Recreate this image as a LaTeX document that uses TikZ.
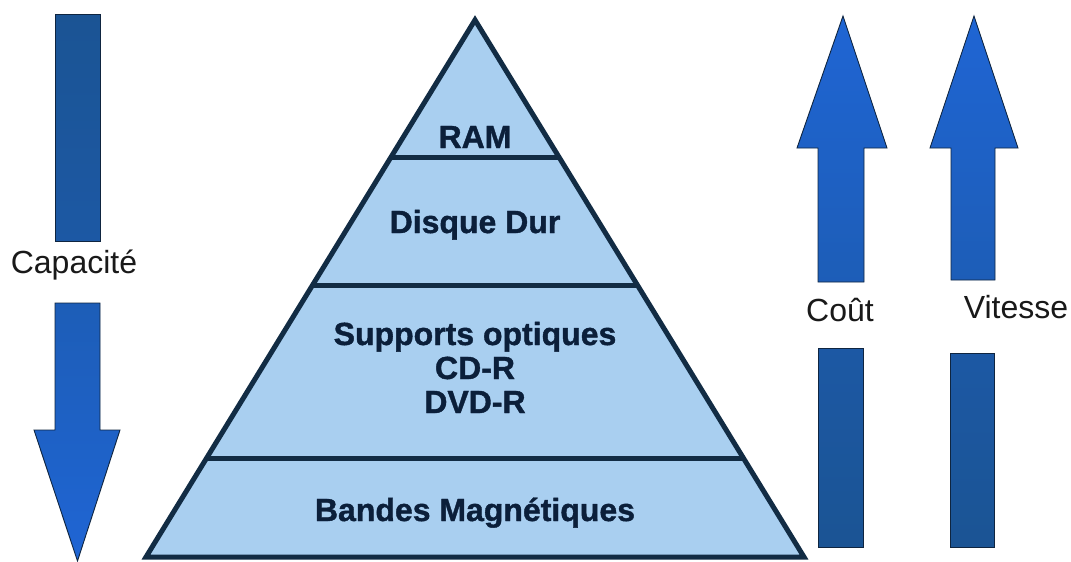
\documentclass[tikz,border=0pt]{standalone}
\usepackage{fontspec}
\setmainfont{Liberation Sans}
\newfontfamily\heavyfont[FakeBold=1.2]{Liberation Sans Bold}
\definecolor{arrowdark}{HTML}{1B5494}
\definecolor{arrowbright}{HTML}{1F65D4}
\definecolor{arrowline}{HTML}{0F2540}
\definecolor{pyrfill}{HTML}{A9CFF0}
\definecolor{pyrline}{HTML}{122C44}
\definecolor{pyrtext}{HTML}{0B1F3A}
\tikzset{
  arrowpart/.style={draw=arrowline, line width=0.9pt, line join=miter},
  pyrlevel/.style={draw=pyrline, line width=5pt},
  pyrlabel/.style={font=\fontsize{32}{34}\selectfont\heavyfont, text=pyrtext, anchor=base, inner sep=0pt},
  sidelabel/.style={font=\fontsize{32}{34}\selectfont, text=black!90, anchor=base, inner sep=0pt}
}
\begin{document}
\begin{tikzpicture}[x=1pt,y=-1pt]
\useasboundingbox (0,0) rectangle (1071,562);
\fill[white] (0,0) rectangle (1071,562);

% ---------- Capacité arrow (down) ----------
\shade[arrowpart, top color=arrowdark, bottom color=arrowdark!75!arrowbright]
  (55,14) rectangle (100,241);
\shade[arrowpart, top color=arrowdark!45!arrowbright, bottom color=arrowbright]
  (55,303) -- (100,303) -- (100,430) -- (120,430) -- (77.5,561) -- (34,430) -- (55,430) -- cycle;
\node[sidelabel] (capacite) at (74,273.5) {Capacité};

% ---------- Coût arrow (up) ----------
\shade[arrowpart, top color=arrowbright, bottom color=arrowdark!45!arrowbright]
  (843,16) -- (887,148) -- (864,148) -- (864,282) -- (818,282) -- (818,148) -- (797,148) -- cycle;
\shade[arrowpart, top color=arrowdark!75!arrowbright, bottom color=arrowdark]
  (818,348) rectangle (863,547);
\node[sidelabel] (cout) at (840,321) {Coût};

% ---------- Vitesse arrow (up) ----------
\shade[arrowpart, top color=arrowbright, bottom color=arrowdark!45!arrowbright]
  (974,16) -- (1018,148) -- (995,148) -- (995,280) -- (951,280) -- (951,148) -- (930,148) -- cycle;
\shade[arrowpart, top color=arrowdark!75!arrowbright, bottom color=arrowdark]
  (950,353) rectangle (994,547);
\node[sidelabel] (vitesse) at (1016,318) {Vitesse};

% ---------- Pyramid ----------
\coordinate (apex) at (475,20);
\coordinate (bl) at (146,557);
\coordinate (br) at (804,557);
\fill[pyrfill] (apex) -- (br) -- (bl) -- cycle;
\draw[pyrlevel] (391,157) -- (559,157);
\draw[pyrlevel] (312.6,285) -- (637.4,285);
\draw[pyrlevel] (206.6,458) -- (743.4,458);
\draw[pyrlevel, line join=miter] (apex) -- (br) -- (bl) -- cycle;

\node[pyrlabel] (ram) at (475,148) {RAM};
\node[pyrlabel] (disque) at (475,233) {Disque Dur};
\node[pyrlabel] (supports) at (475,345) {Supports optiques};
\node[pyrlabel] (cdr) at (475,379) {CD-R};
\node[pyrlabel] (dvdr) at (475,413) {DVD-R};
\node[pyrlabel] (bandes) at (475,521) {Bandes Magnétiques};
\end{tikzpicture}
\end{document}
